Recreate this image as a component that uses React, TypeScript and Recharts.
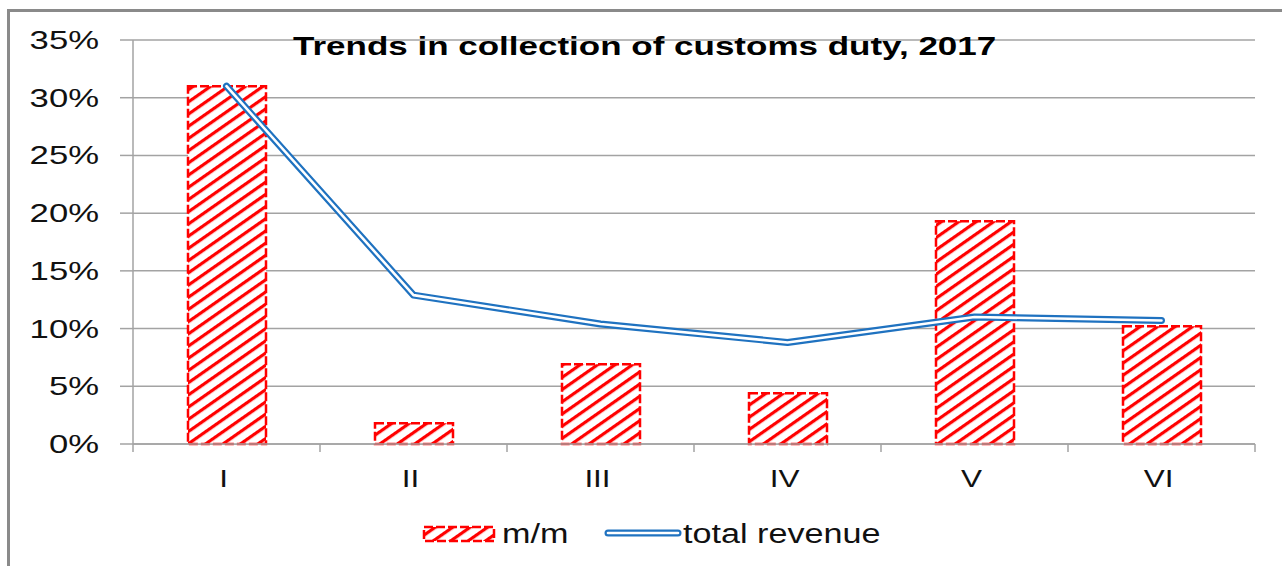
import React from 'react';
import { ComposedChart, Bar, Line, XAxis, YAxis, CartesianGrid } from 'recharts';

const months = ['I', 'II', 'III', 'IV', 'V', 'VI'];
const mmValues = [31.0, 1.8, 6.9, 4.4, 19.3, 10.2];
const totalRevenue = [31.0, 12.9, 10.4, 8.8, 11.0, 10.7];
const yTicks = [0, 5, 10, 15, 20, 25, 30, 35];
const titleText = 'Trends in collection of customs duty, 2017';
const barLegend = 'm/m';
const lineLegend = 'total revenue';

const data = months.map((m, i) => ({ month: m, mm: mmValues[i], total: totalRevenue[i] }));

const W = 1282;
const H = 566;
const margin = { top: 40, right: 27, left: 0, bottom: 92 };
const yAxisWidth = 133;
const xAxisHeight = 30;
const plotLeft = margin.left + yAxisWidth;
const plotRight = W - margin.right;
const axisY = H - margin.bottom - xAxisHeight;
const band = (plotRight - plotLeft) / months.length;

const FONT = '"Liberation Sans", Arial, sans-serif';
const GRID = '#a3a3a3';
const RED = '#ff0000';
const BLUE = '#1f72c0';

const XTick = (props: any) => {
  const { x, payload, index } = props;
  const bx = x + band / 2;
  return (
    <g>
      <line x1={bx} x2={bx} y1={axisY} y2={axisY + 8} stroke={GRID} strokeWidth={1.5} />
      {index === 0 && (
        <line x1={x - band / 2} x2={x - band / 2} y1={axisY} y2={axisY + 8} stroke={GRID} strokeWidth={1.5} />
      )}
      <text
        transform={`translate(${x - 3},${axisY + 43}) scale(1.34,1)`}
        textAnchor="middle"
        fontFamily={FONT}
        fontSize={23.5}
        fill="#111"
      >
        {payload.value}
      </text>
    </g>
  );
};

const YTick = (props: any) => {
  const { y, payload } = props;
  return (
    <text
      transform={`translate(${plotLeft - 34},${y + 9}) scale(1.36,1)`}
      textAnchor="end"
      fontFamily={FONT}
      fontSize={25.5}
      fill="#111"
    >
      {`${payload.value}%`}
    </text>
  );
};

const HatchPattern = ({ id }: { id: string }) => (
  <pattern id={id} patternUnits="userSpaceOnUse" width={10} height={10} patternTransform="rotate(-35)">
    <rect x={0} y={0} width={10} height={10} fill="#ffffff" />
    <rect x={0} y={0} width={10} height={3.2} fill={RED} />
  </pattern>
);

export default function App() {
  return (
    <div style={{ position: 'fixed', left: 0, top: 0, width: W, height: H, overflow: 'hidden', background: '#fff' }}>
      <div
        style={{
          position: 'absolute',
          left: 7,
          top: 9,
          width: W + 40,
          height: H + 40,
          border: '3px solid #8a8a8a',
          boxSizing: 'border-box',
        }}
      />
      <div style={{ position: 'absolute', left: 0, top: 0 }}>
        <ComposedChart width={W} height={H} data={data} margin={margin}>
          <defs>
            <HatchPattern id="hatchBar" />
          </defs>
          <CartesianGrid vertical={false} stroke={GRID} strokeWidth={1.5} />
          <XAxis
            dataKey="month"
            height={xAxisHeight}
            axisLine={{ stroke: GRID, strokeWidth: 1.5 }}
            tickLine={false}
            tick={<XTick />}
            interval={0}
          />
          <YAxis
            width={yAxisWidth}
            domain={[0, 35]}
            ticks={yTicks}
            interval={0}
            axisLine={{ stroke: GRID, strokeWidth: 1.5 }}
            tickLine={{ stroke: GRID, strokeWidth: 1.5 }}
            tickSize={13}
            tick={<YTick />}
          />
          <Bar
            dataKey="mm"
            fill="url(#hatchBar)"
            stroke={RED}
            strokeWidth={2.5}
            strokeDasharray="9 3"
            barSize={78}
            isAnimationActive={false}
          />
          <Line
            dataKey="total"
            type="linear"
            stroke={BLUE}
            strokeWidth={7}
            strokeLinecap="round"
            strokeLinejoin="round"
            dot={false}
            activeDot={false}
            isAnimationActive={false}
          />
          <Line
            dataKey="total"
            name="total inner"
            type="linear"
            stroke="#ffffff"
            strokeWidth={2.6}
            strokeLinecap="round"
            strokeLinejoin="round"
            dot={false}
            activeDot={false}
            isAnimationActive={false}
          />
        </ComposedChart>
      </div>
      <svg
        width={W}
        height={H}
        style={{ position: 'absolute', left: 0, top: 0, pointerEvents: 'none' }}
      >
        <defs>
          <HatchPattern id="hatchLegend" />
        </defs>
        <text
          transform="translate(293,55) scale(1.4,1)"
          fontFamily={FONT}
          fontWeight="bold"
          fontSize={25}
          fill="#000"
        >
          {titleText}
        </text>
        <rect
          x={424}
          y={527}
          width={70}
          height={14}
          fill="url(#hatchLegend)"
          stroke={RED}
          strokeWidth={2.5}
          strokeDasharray="9 3"
        />
        <text
          transform={`translate(502,543) scale(1.22,1)`}
          fontFamily={FONT}
          fontSize={28}
          fill="#111"
        >
          {barLegend}
        </text>
        <line x1={608} x2={678} y1={533} y2={533} stroke={BLUE} strokeWidth={7} strokeLinecap="round" />
        <line x1={608} x2={678} y1={533} y2={533} stroke="#ffffff" strokeWidth={2.6} strokeLinecap="round" />
        <text
          transform={`translate(683,543) scale(1.22,1)`}
          fontFamily={FONT}
          fontSize={28}
          fill="#111"
        >
          {lineLegend}
        </text>
      </svg>
    </div>
  );
}
